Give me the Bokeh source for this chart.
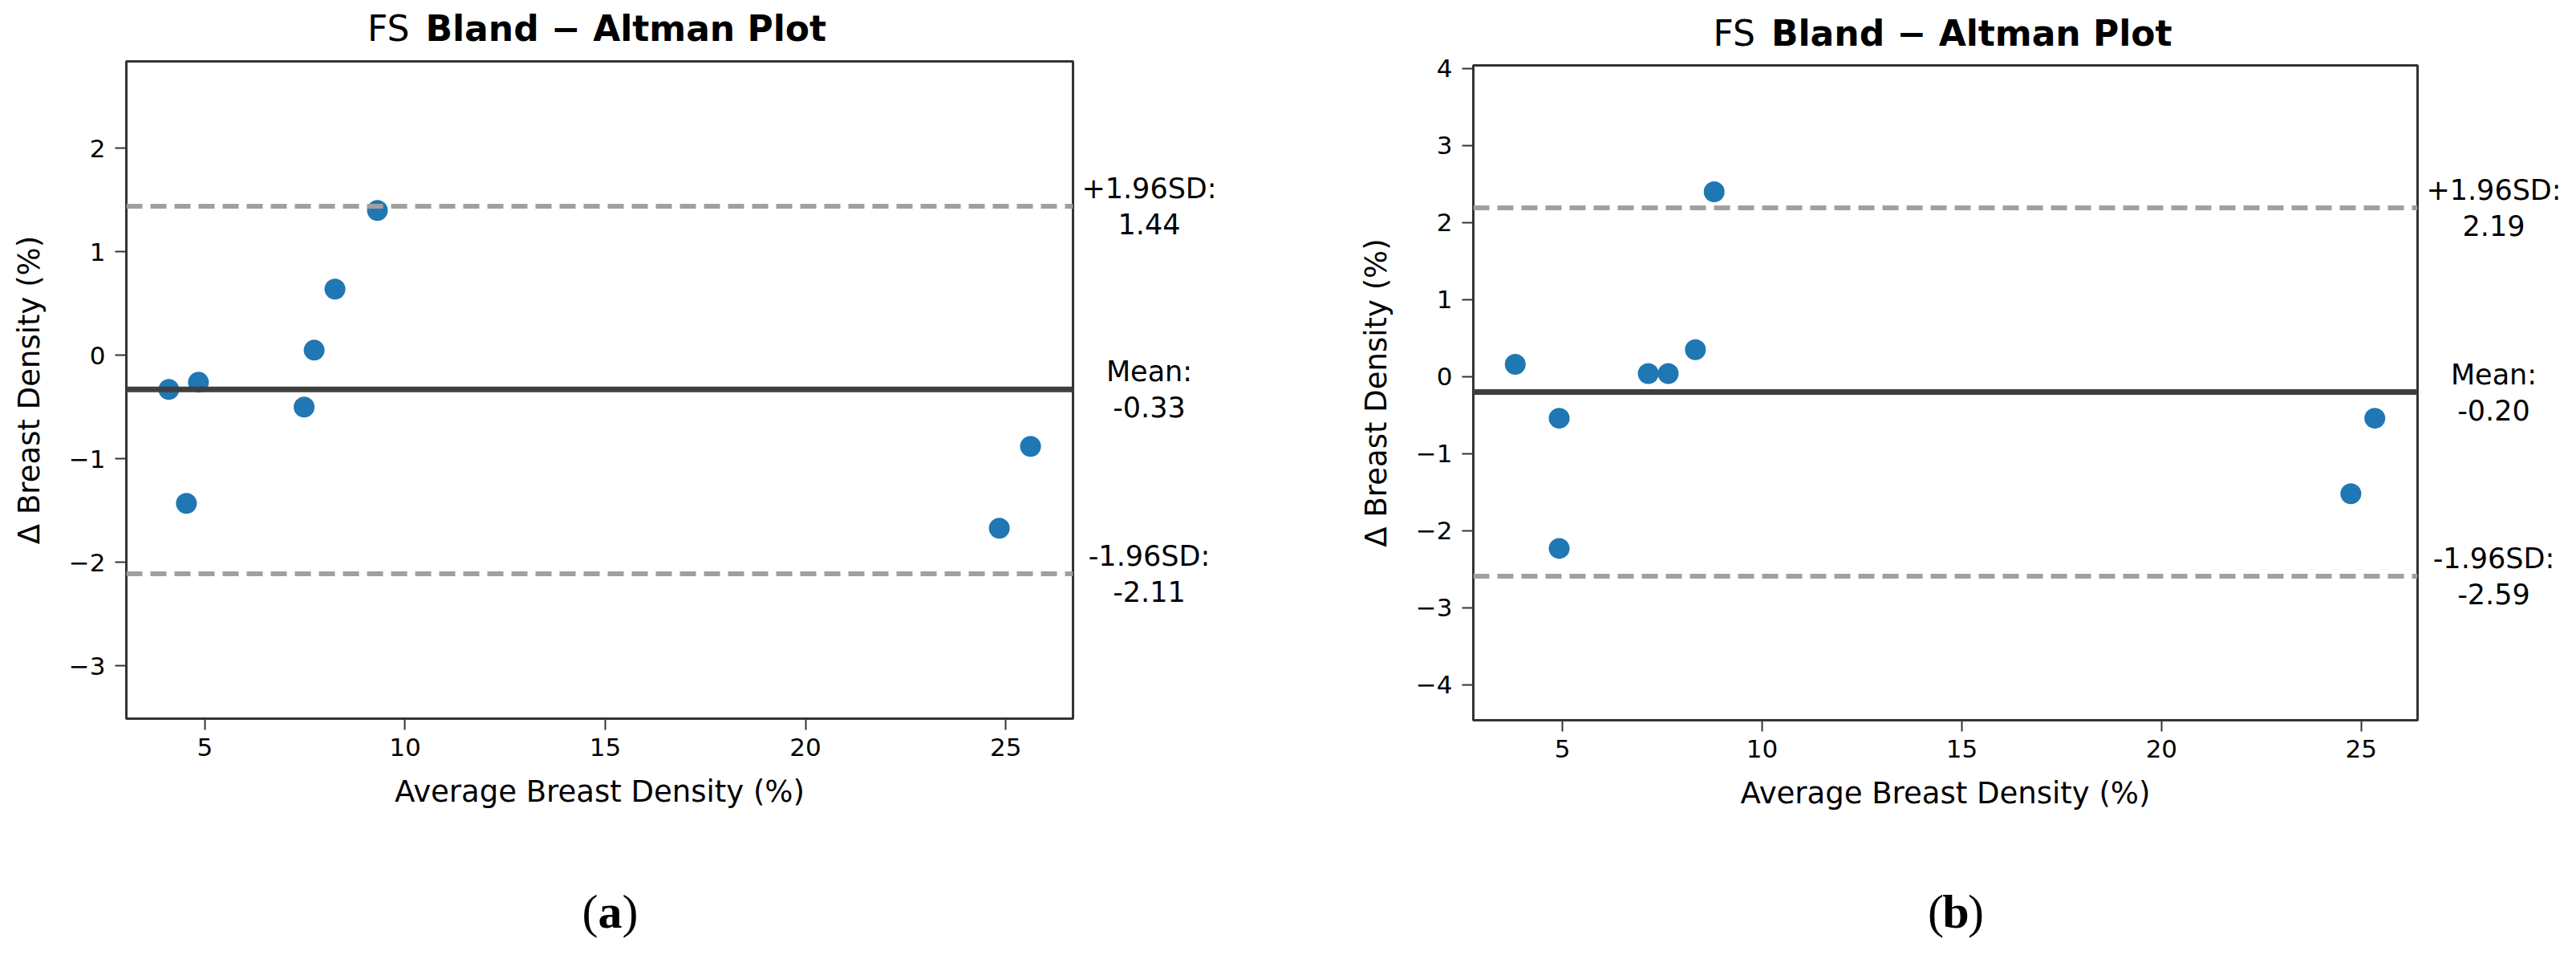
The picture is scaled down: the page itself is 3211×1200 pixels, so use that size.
from bokeh.plotting import figure
from bokeh.layouts import row, column
from bokeh.models import Range1d, FixedTicker, Span, Label
from bokeh.embed import file_html
from bokeh.resources import INLINE

# ---------------- data ----------------
# Panel (a)
avg_a = [4.10, 4.84, 4.54, 7.48, 7.73, 8.25, 9.31, 24.84, 25.62]
diff_a = [-0.33, -0.26, -1.43, -0.50, 0.05, 0.64, 1.40, -1.67, -0.88]
mean_a, upper_a, lower_a = -0.33, 1.44, -2.11

# Panel (b)
avg_b = [3.82, 4.92, 4.92, 7.15, 7.65, 8.33, 8.80, 24.74, 25.34]
diff_b = [0.16, -0.54, -2.23, 0.04, 0.04, 0.35, 2.40, -1.52, -0.54]
mean_b, upper_b, lower_b = -0.20, 2.19, -2.59

x_ticks = [5, 10, 15, 20, 25]
y_ticks_a = [-3, -2, -1, 0, 1, 2]
y_ticks_b = [-4, -3, -2, -1, 0, 1, 2, 3, 4]

title_plain = "FS"
title_bold = "Bland \u2212 Altman Plot"
x_label = "Average Breast Density (%)"
y_label = "\u0394 Breast Density (%)"

FONT = "DejaVu Sans"
SERIF = "Liberation Serif"
SPINE = "#333333"


def fmt_tick(v):
    return ("\u2212" + str(abs(v))) if v < 0 else str(v)


def blank(width, height, xr, yr, left=0, right=0, top=0, bottom=0):
    f = figure(width=width, height=height, output_backend="svg",
               toolbar_location=None, x_range=xr, y_range=yr,
               x_axis_location=None, y_axis_location=None,
               min_border_left=left, min_border_right=right,
               min_border_top=top, min_border_bottom=bottom)
    f.xgrid.visible = False
    f.ygrid.visible = False
    f.outline_line_color = None
    f.background_fill_color = "white"
    f.border_fill_color = "white"
    return f


def make_panel(avg, diff, mean, upper, lower, xr, yr, yticks, tag,
               total_w, left_b, frame_w, top_b, frame_h, bottom_b,
               title_h, title_y, tag_h, tag_y):
    xrange_ = Range1d(*xr)
    yrange_ = Range1d(*yr)
    right_pad = 5
    main_w = left_b + frame_w + right_pad
    annot_w = total_w - main_w
    main_h = top_b + frame_h + bottom_b

    p = figure(width=main_w, height=main_h, output_backend="svg",
               toolbar_location=None, x_range=xrange_, y_range=yrange_,
               min_border_left=left_b, min_border_right=right_pad,
               min_border_top=top_b, min_border_bottom=bottom_b)
    p.xgrid.visible = False
    p.ygrid.visible = False
    p.background_fill_color = "white"
    p.border_fill_color = "white"
    p.outline_line_color = SPINE
    p.outline_line_width = 3

    for ax in (p.xaxis[0], p.yaxis[0]):
        ax.axis_line_color = SPINE
        ax.axis_line_width = 3
        ax.major_tick_line_color = SPINE
        ax.major_tick_line_width = 2
        ax.major_tick_in = 0
        ax.major_tick_out = 14
        ax.minor_tick_line_color = None
        ax.major_label_text_font = FONT
        ax.major_label_text_font_size = "31px"
        ax.major_label_text_color = "black"
        ax.axis_label_text_font = FONT
        ax.axis_label_text_font_size = "37px"
        ax.axis_label_text_font_style = "normal"
        ax.axis_label_text_color = "black"

    p.xaxis.ticker = FixedTicker(ticks=x_ticks)
    p.yaxis.ticker = FixedTicker(ticks=yticks)
    p.yaxis.major_label_overrides = {t: fmt_tick(t) for t in yticks}
    p.xaxis.major_label_standoff = 10
    p.yaxis.major_label_standoff = 12
    p.xaxis.axis_label = x_label
    p.yaxis.axis_label = y_label
    p.xaxis.axis_label_standoff = 20
    p.yaxis.axis_label_standoff = 25

    # limit lines
    for loc in (upper, lower):
        p.add_layout(Span(location=loc, dimension="width", line_color="#a0a0a0",
                          line_width=6, line_dash="20 10"))
    p.add_layout(Span(location=mean, dimension="width", line_color="#3f3f3f",
                      line_width=7))

    p.scatter(avg, diff, size=26, color="#1f77b4", line_color=None)

    # right-side annotation strip (shares the y range)
    a = blank(annot_w, main_h, Range1d(0, annot_w), yrange_,
              top=top_b, bottom=bottom_b)
    cx = 95 - right_pad
    for first, val in (("+1.96SD:", upper), ("Mean:", mean), ("-1.96SD:", lower)):
        for txt, dy in ((first, 22), ("%.2f" % val, -22)):
            a.add_layout(Label(x=cx, y=val, y_offset=dy, text=txt,
                               text_align="center", text_baseline="middle",
                               text_font=FONT, text_font_size="35px",
                               text_color="black"))

    xmid = (xr[0] + xr[1]) / 2.0
    side_right = total_w - left_b - frame_w

    # title strip
    t = blank(total_w, title_h, xrange_, Range1d(0, title_h),
              left=left_b, right=side_right)
    t.add_layout(Label(x=xmid, y=title_y, x_offset=-237, text=title_plain,
                       text_align="right", text_baseline="middle", text_font=FONT,
                       text_font_size="44px", text_color="black"))
    t.add_layout(Label(x=xmid, y=title_y, x_offset=-217, text=title_bold,
                       text_align="left", text_baseline="middle", text_font=FONT,
                       text_font_size="44px", text_font_style="bold",
                       text_color="black"))

    # panel tag strip
    g = blank(total_w, tag_h, xrange_, Range1d(0, tag_h),
              left=left_b, right=side_right)
    for txt, dx, align, style in (("(", -2, "right", "normal"), (tag, 13, "center", "bold"),
                                  (")", 28, "left", "normal")):
        g.add_layout(Label(x=xmid, y=tag_y, x_offset=dx, text=txt,
                           text_align=align, text_baseline="middle", text_font=SERIF,
                           text_font_size="60px", text_font_style=style,
                           text_color="black"))

    return column(t, row(p, a), g)


# page coordinates: layout origin is at (8, 8)
panel_a = make_panel(avg_a, diff_a, mean_a, upper_a, lower_a,
                     (3.04, 26.68), (-3.51, 2.84), y_ticks_a, "a",
                     total_w=1600, left_b=157, frame_w=1180,
                     top_b=10, frame_h=819, bottom_b=140,
                     title_h=66, title_y=31, tag_h=1184 - 66 - (10 + 819 + 140), tag_y=49)
panel_b = make_panel(avg_b, diff_b, mean_b, upper_b, lower_b,
                     (2.77, 26.41), (-4.46, 4.04), y_ticks_b, "b",
                     total_w=1595, left_b=236, frame_w=1177,
                     top_b=15, frame_h=816, bottom_b=140,
                     title_h=66, title_y=25, tag_h=1184 - 66 - (15 + 816 + 140), tag_y=49)

layout = row(panel_a, panel_b)
open("out.html", "w").write(file_html(layout, INLINE))
